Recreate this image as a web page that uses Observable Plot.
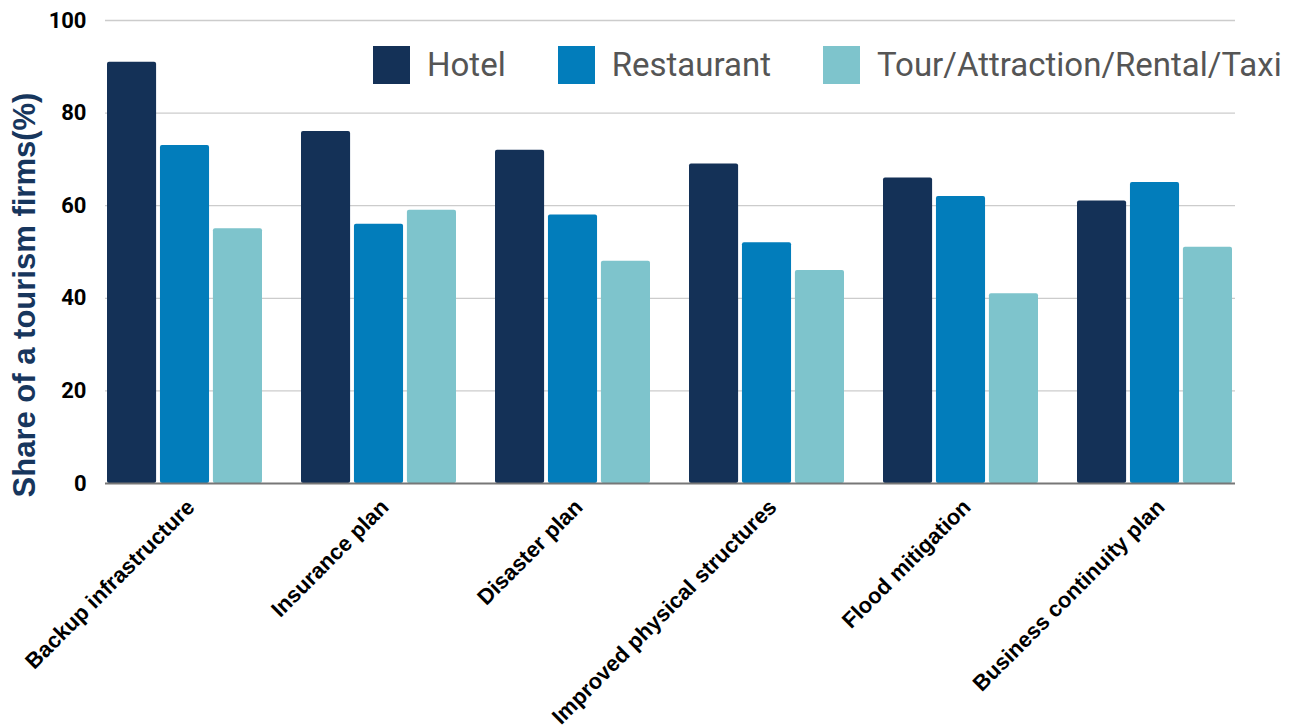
<!DOCTYPE html>
<html><head><meta charset="utf-8">
<script src="https://cdn.jsdelivr.net/npm/d3@7"></script>
<script src="https://cdn.jsdelivr.net/npm/@observablehq/plot@0.6"></script>
<style>
html,body{margin:0;padding:0;background:#fff;overflow:hidden}
#wrap{position:relative;width:1289px;height:726px;font-family:Roboto,sans-serif}
#legend{position:absolute;left:373px;top:45px;display:flex;align-items:center;font-family:Roboto,sans-serif;font-size:33px;color:#555;white-space:nowrap}
#legend .item{display:flex;align-items:center;margin-right:52px}
#legend .sw{width:37px;height:38px;margin-right:17px}
</style></head><body><div id="wrap"></div>
<script>
const categories = ["Backup infrastructure","Insurance plan","Disaster plan","Improved physical structures","Flood mitigation","Business continuity plan"];
const series = ["Hotel","Restaurant","Tour/Attraction/Rental/Taxi"];
const hotel = [91,76,72,69,66,61];
const restaurant = [73,56,58,52,62,65];
const tour = [55,59,48,46,41,51];
const colors = ["#143157","#027dbb","#7ec4cc"];
const yTicks = [0,20,40,60,80,100];
const yLabel = "Share of a tourism firms(%)";

const valuesBySeries = [hotel, restaurant, tour];
const rows = [];
series.forEach((s, si) => categories.forEach((c, ci) => rows.push({category: c, series: s, value: valuesBySeries[si][ci]})));

const W = 1289, H = 726, mL = 105, mR = 54, mT = 20, mB = 243;
const xs = d3.scaleBand().domain(categories).range([mL, W - mR]).paddingInner(0.2).paddingOuter(0);
const bw = xs.bandwidth(), gap = 3, w = (bw - 2 * gap) / 3;

const barMarks = series.map((s, si) => Plot.barY(rows.filter(r => r.series === s), {
  x: "category", y: "value", fill: "series", rx: 2,
  insetLeft: si * (w + gap), insetRight: (2 - si) * (w + gap)
}));

const chart = Plot.plot({
  width: W, height: H, marginLeft: mL, marginRight: mR, marginTop: mT, marginBottom: mB,
  style: {fontFamily: "Roboto, sans-serif", fontSize: "22px", fontWeight: "bold", color: "#000", background: "transparent", overflow: "visible"},
  x: {domain: categories, paddingInner: 0.2, paddingOuter: 0, label: null},
  y: {domain: [0, 100], ticks: yTicks, label: null},
  color: {domain: series, range: colors},
  marks: [
    Plot.ruleY(yTicks.filter(d => d > 0), {stroke: "#ccc", strokeWidth: 1.3}),
    ...barMarks,
    Plot.ruleY([0], {stroke: "#777", strokeWidth: 2}),
    Plot.axisY(yTicks, {tickSize: 0, tickPadding: 19, label: null, fontSize: 22, fontWeight: "bold", fontFamily: "Roboto, sans-serif", fill: "#000"}),
    Plot.axisX({tickSize: 0, tickPadding: 20, tickRotate: -45, label: null, dx: 6, fontSize: 22, fontWeight: "bold", fontFamily: "'Liberation Sans', Arial, sans-serif", fill: "#000"}),
    Plot.text([yLabel], {frameAnchor: "left", text: d => d, rotate: -90, dx: -80, dy: 43, textAnchor: "middle", fontSize: 31, fontWeight: "bold", fontFamily: "'Liberation Sans', Arial, sans-serif", fill: "#17365d"})
  ]
});
const wrap = document.getElementById("wrap");
wrap.appendChild(chart);

const legend = document.createElement("div");
legend.id = "legend";
const cs = chart.scale("color");
series.forEach(s => {
  const it = document.createElement("div"); it.className = "item";
  const sw = document.createElement("div"); sw.className = "sw"; sw.style.background = cs.apply(s);
  const t = document.createElement("span"); t.textContent = s;
  it.appendChild(sw); it.appendChild(t); legend.appendChild(it);
});
wrap.appendChild(legend);
</script></body></html>
